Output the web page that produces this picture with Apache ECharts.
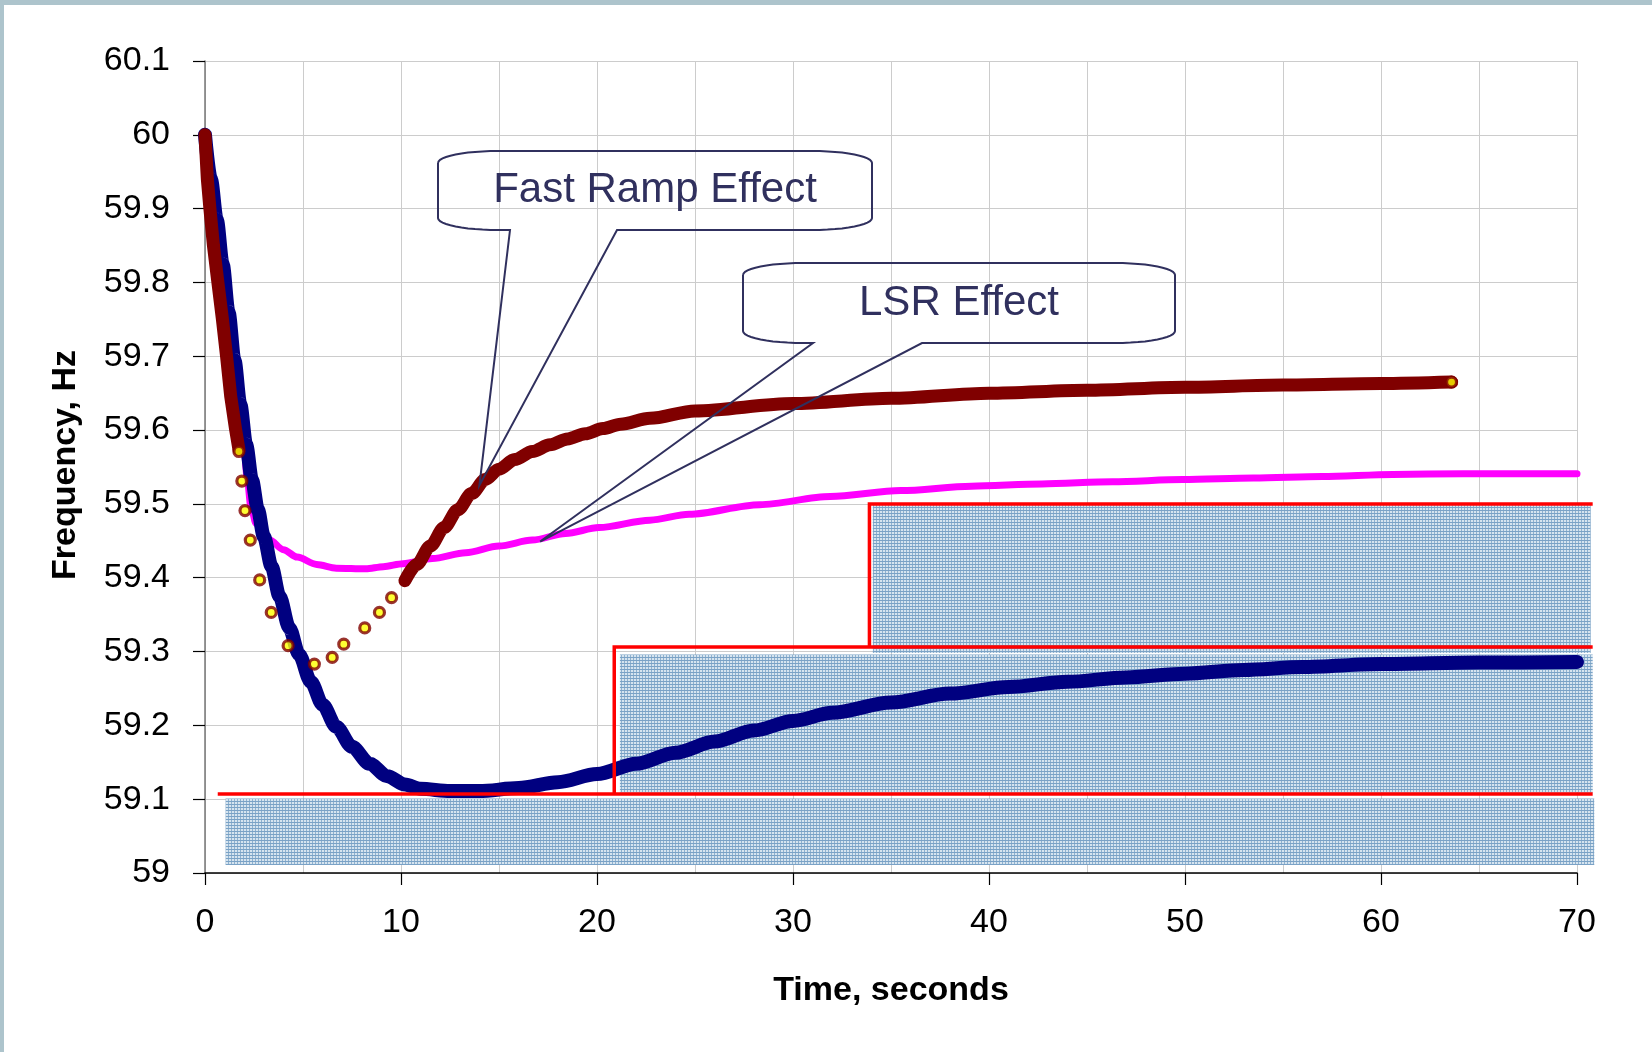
<!DOCTYPE html>
<html><head><meta charset="utf-8">
<script src="https://cdn.jsdelivr.net/npm/echarts@6/dist/echarts.min.js"></script>
<style>
html,body{margin:0;padding:0;background:#fff;overflow:hidden;}
#chart{position:absolute;left:0;top:0;width:1652px;height:1052px;}
.frame{position:absolute;background:#adc4cc;z-index:5;}
</style></head><body>
<div id="chart"></div>
<div class="frame" style="left:0;top:0;width:1652px;height:5px"></div>
<div class="frame" style="left:0;top:0;width:4px;height:1052px"></div>
<script>
// ---------- data (time s, frequency Hz) ----------
const blueCurve = [[0,60.0],[0.3,59.94],[0.6,59.885],[0.9,59.825],[1.2,59.76],[1.5,59.695],[1.8,59.635],[2.1,59.58],[2.4,59.532],[2.7,59.492],[3.0,59.456],[3.4,59.415],[3.8,59.375],[4.3,59.332],[4.8,59.296],[5.4,59.259],[6.0,59.228],[6.7,59.198],[7.5,59.171],[8.4,59.148],[9.3,59.131],[10.2,59.12],[11.0,59.114],[12.5,59.111],[14.0,59.111],[16.0,59.115],[18.0,59.123],[20.0,59.134],[22.0,59.148],[24.0,59.163],[26.0,59.178],[28.0,59.193],[30.0,59.206],[32.0,59.217],[35.0,59.231],[38.0,59.243],[41.0,59.252],[44.0,59.259],[47.0,59.265],[50.0,59.27],[53.0,59.275],[56.0,59.279],[60.0,59.283],[65.0,59.285],[70.0,59.286]];
const lsrCurve = [[0,60.0],[0.1,59.95],[0.4,59.9],[0.7,59.84],[1.0,59.77],[1.3,59.70],[1.55,59.646],[1.8,59.615],[2.0,59.575],[2.15,59.535],[2.35,59.495],[2.6,59.474],[2.9,59.462],[3.3,59.451],[4.0,59.438],[4.7,59.428],[5.7,59.418],[6.7,59.413],[8.2,59.412],[9.1,59.415],[10.1,59.419],[11.6,59.426],[13.3,59.434],[15.0,59.443],[16.7,59.451],[18.4,59.46],[20.1,59.468],[22.7,59.478],[24.7,59.486],[28.3,59.499],[31.9,59.51],[35.5,59.518],[39.1,59.524],[42.7,59.527],[46.3,59.53],[49.9,59.533],[53.5,59.535],[57.0,59.537],[60.6,59.54],[64.2,59.541],[70.0,59.541]];
const rampEarly = [[0,60.0],[0.07,60.0],[0.12,59.94],[0.25,59.90],[0.43,59.85],[0.63,59.806],[0.88,59.752],[1.10,59.70],[1.31,59.646],[1.56,59.601],[1.73,59.574]];
const rampMarkers = [[1.73,59.571],[1.88,59.531],[2.04,59.491],[2.31,59.451],[2.79,59.397],[3.38,59.353],[4.24,59.308],[5.58,59.283],[6.49,59.292],[7.08,59.31],[8.15,59.332],[8.9,59.353],[9.52,59.373]];
const rampLate = [[10.2,59.396],[10.8,59.418],[11.5,59.443],[12.2,59.468],[12.9,59.492],[13.6,59.514],[14.3,59.533],[15.0,59.547],[15.8,59.56],[16.7,59.571],[17.6,59.58],[18.5,59.588],[19.4,59.595],[20.3,59.602],[21.2,59.608],[22.7,59.616],[25,59.626],[30,59.636],[35,59.643],[40,59.650],[45,59.654],[50,59.658],[55,59.661],[60,59.663],[63.6,59.665]];
// shaded zones
const zoneStart = [1.05, 21.17, 34.07];
const zoneEnd   = [70.88, 70.8, 70.7];
const zoneLow   = [59.011, 59.109, 59.298];
const zoneHigh  = [59.101, 59.296, 59.499];
// red limit step lines
const limitLines = [
  [[0.65,59.107],[70.8,59.107]],
  [[20.88,59.107],[20.88,59.306],[70.8,59.306]],
  [[33.9,59.306],[33.9,59.5],[70.8,59.5]]
];
const calloutTexts = ['Fast Ramp Effect', 'LSR Effect'];
const calloutTargets = [[14.0,59.525],[17.1,59.449]];

// ---------- styling helpers ----------
const FONT = '"Liberation Sans", Arial, Helvetica, sans-serif';
function makePattern(){
  const c = document.createElement('canvas'); c.width = 3; c.height = 3;
  const g = c.getContext('2d');
  g.fillStyle = '#d6e4ef'; g.fillRect(0,0,3,3);
  g.fillStyle = '#7aa2c6'; g.fillRect(0,0,3,1);
  g.fillStyle = '#8eb1cf'; g.fillRect(0,1,1,2);
  return c;
}
const pattern = {image: makePattern(), repeat: 'repeat'};
function zoneData(idx){ return idx.map(i => [zoneStart[i], zoneEnd[i], zoneLow[i], zoneHigh[i]]); }
function zoneRender(params, api){
  const p0 = api.coord([api.value(0), api.value(3)]);
  const p1 = api.coord([api.value(1), api.value(2)]);
  return {type:'rect', shape:{x:p0[0], y:p0[1], width:p1[0]-p0[0], height:p1[1]-p0[1]}, style:{fill: pattern}};
}

const chart = echarts.init(document.getElementById('chart'), null, {renderer:'canvas'});
const option = {
  animation: false,
  backgroundColor: '#ffffff',
  grid: {left: 205, right: 75, top: 61, bottom: 179, containLabel: false},
  xAxis: {
    type: 'value', min: 0, max: 70, interval: 10,
    axisLine: {show: true, onZero: false, lineStyle: {color: '#000', width: 1.5}},
    axisTick: {show: true, inside: false, length: 12, lineStyle: {color: '#000', width: 1.2}},
    minorTick: {show: false, splitNumber: 2},
    axisLabel: {fontSize: 34, color: '#000', margin: 33, fontFamily: FONT},
    splitLine: {show: true, lineStyle: {color: '#cccccc', width: 1}},
    minorSplitLine: {show: true, lineStyle: {color: '#cccccc', width: 1}}
  },
  yAxis: {
    type: 'value', min: 59, max: 60.1, interval: 0.1,
    axisLine: {show: true, onZero: false, lineStyle: {color: '#777', width: 1.5}},
    axisTick: {show: true, inside: false, length: 12, lineStyle: {color: '#000', width: 1.2}},
    axisLabel: {fontSize: 34, color: '#000', margin: 35, fontFamily: FONT,
      formatter: v => String(Math.round(v * 10) / 10)},
    splitLine: {show: true, lineStyle: {color: '#cccccc', width: 1}}
  },
  series: [
    {type:'custom', name:'zones', z:1, silent:true, clip:false, renderItem: zoneRender,
      encode:{x:[0,1], y:[2,3]}, data: zoneData([0,1,2])},
    {type:'line', name:'LSR', z:2, data: lsrCurve, symbol:'none', clip:false, smooth:0.3, smoothMonotone:'x',
      lineStyle:{color:'#ff00ff', width:7, cap:'round', join:'round'}},
    {type:'line', name:'Base', z:3, data: blueCurve, symbol:'none', clip:false, smooth:0.3, smoothMonotone:'x',
      lineStyle:{color:'#000080', width:14, cap:'round', join:'round'}},
    {type:'lines', name:'limits', z:4, coordinateSystem:'cartesian2d', polyline:true, clip:false, silent:true,
      lineStyle:{color:'#ff0000', width:3.5, opacity:1, curveness:0},
      data: limitLines.map(c => ({coords: c}))},
    {type:'line', name:'RampEarly', z:6, data: rampEarly, symbol:'none', clip:false,
      lineStyle:{color:'#800000', width:13, cap:'round', join:'round'}},
    {type:'line', name:'RampLate', z:6, data: rampLate, symbol:'none', clip:false, smooth:0.3, smoothMonotone:'x',
      lineStyle:{color:'#800000', width:13, cap:'round', join:'round'}},
    {type:'scatter', name:'RampPts', z:7, clip:false,
      data: rampMarkers.concat([rampLate[rampLate.length-1]]),
      symbol:'circle', symbolSize: 10,
      itemStyle:{color:'#ffff00', borderColor:'#800000', borderWidth:3.2}}
  ]
};
chart.setOption(option);

// ---------- callouts & titles ----------
function ellipseArc(cx, cy, rx, ry, a0, a1, n){
  const pts = [];
  for (let i = 0; i <= n; i++){
    const a = a0 + (a1 - a0) * i / n;
    pts.push([cx + rx * Math.cos(a), cy + ry * Math.sin(a)]);
  }
  return pts;
}
function calloutPoints(L, T, R, B, rx, ry, pL, pR, tip){
  const P = Math.PI;
  let pts = [];
  pts = pts.concat(ellipseArc(L+rx, T+ry, rx, ry, P, 1.5*P, 12));
  pts = pts.concat(ellipseArc(R-rx, T+ry, rx, ry, 1.5*P, 2*P, 12));
  pts = pts.concat(ellipseArc(R-rx, B-ry, rx, ry, 0, 0.5*P, 12));
  pts.push([pR, B]); pts.push(tip); pts.push([pL, B]);
  pts = pts.concat(ellipseArc(L+rx, B-ry, rx, ry, 0.5*P, P, 12));
  pts.push(pts[0]);
  return pts;
}
const boxes = [
  {L:438, T:151, R:872, B:230, pL:510, pR:617},
  {L:743, T:263, R:1175, B:343, pL:813, pR:922}
];
const graphics = [];
boxes.forEach((b, i) => {
  const tip = chart.convertToPixel({xAxisIndex:0, yAxisIndex:0}, calloutTargets[i]);
  graphics.push({type:'polyline', z:100, shape:{points: calloutPoints(b.L,b.T,b.R,b.B,60,12,b.pL,b.pR,tip)},
    style:{stroke:'#30305e', lineWidth:2, fill:null}});
  graphics.push({type:'text', z:101, x:(b.L+b.R)/2, y:(b.T+b.B)/2,
    style:{text: calloutTexts[i], fontSize:42, fontFamily: FONT, fill:'#30305e',
      align:'center', verticalAlign:'middle', textAlign:'center', textVerticalAlign:'middle'}});
});
graphics.push({type:'text', z:101, x:891, y:991,
  style:{text:'Time, seconds', fontSize:34, fontWeight:'bold', fontFamily: FONT, fill:'#000',
    align:'center', verticalAlign:'middle', textAlign:'center', textVerticalAlign:'middle'}});
graphics.push({type:'text', z:101, x:66, y:465, rotation: Math.PI/2,
  style:{text:'Frequency, Hz', fontSize:34, fontWeight:'bold', fontFamily: FONT, fill:'#000',
    align:'center', verticalAlign:'middle', textAlign:'center', textVerticalAlign:'middle'}});
chart.setOption({graphic: graphics});
</script></body></html>
